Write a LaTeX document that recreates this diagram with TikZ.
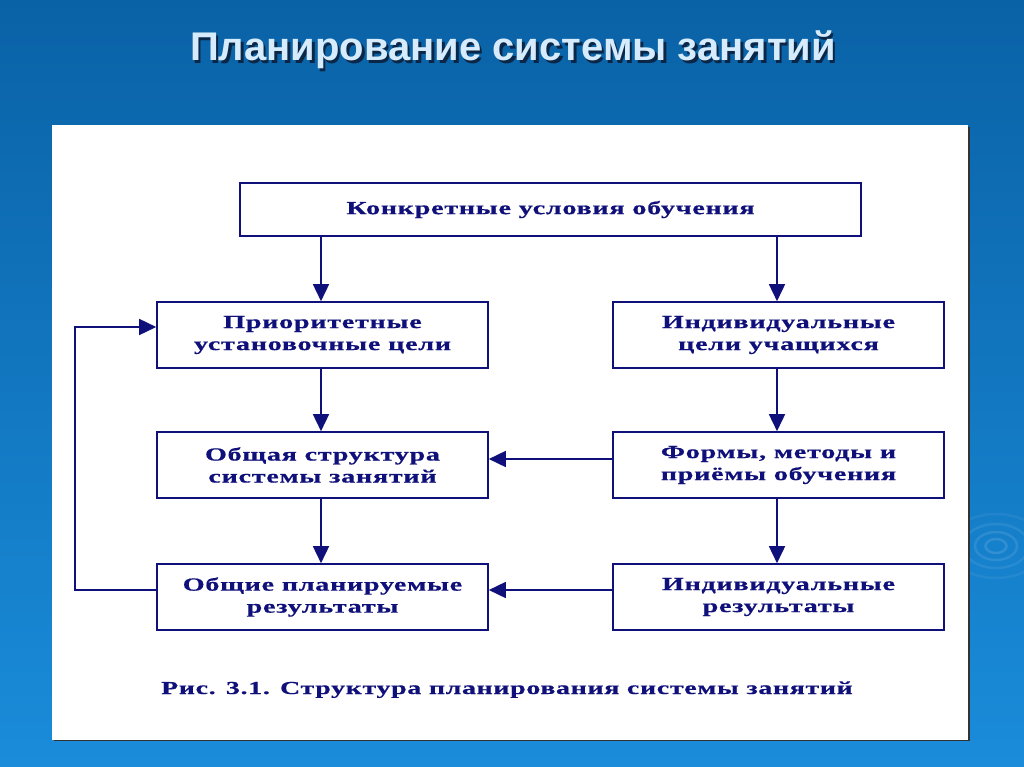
\documentclass[tikz,border=0pt]{standalone}
\usepackage{fontspec}
\setmainfont{Liberation Serif}
\newfontfamily\boxfont[FakeStretch=1.52,LetterSpace=4,FakeBold=0.6]{Liberation Serif Bold}
\newfontfamily\titlefont{Liberation Sans Bold}
\usetikzlibrary{arrows.meta,shadings}
\definecolor{navy}{HTML}{10107A}
\definecolor{bgtop}{HTML}{0A62A6}
\definecolor{bgbot}{HTML}{1A8CDA}
\definecolor{titlecol}{HTML}{D6EBFB}
\definecolor{titleshadow}{HTML}{0B2748}
\newcommand{\mytitletext}{Планирование системы занятий}
\tikzset{
  box/.style={draw=navy, line width=1.6pt, fill=white, minimum height=66pt,
    minimum width=331pt, align=center, inner sep=0pt,
    font=\boxfont\fontsize{18.5}{22}\selectfont, text=navy},
  arr/.style={draw=navy, line width=1.6pt, -{Triangle[length=17pt,width=16pt]}},
}
\begin{document}
\begin{tikzpicture}[x=1pt,y=-1pt]
\useasboundingbox (0,0) rectangle (1024,767);
\shade[top color=bgtop, bottom color=bgbot] (0,0) rectangle (1024,767);
% faint ripples
\foreach \r/\o in {7/0.12,14/0.10,22/0.08,32/0.06}
  \draw[white, opacity=\o, line width=2.5pt] (996,546) ellipse ({\r*1.5} and \r);
% title with shadow
\node[font=\titlefont\fontsize{40}{40}\selectfont, anchor=base, inner sep=0pt] (title) at (513,61)
  {\makebox[0pt][l]{\hspace{2.5pt}\raisebox{-2.5pt}{\color{titleshadow}\mytitletext}}{\color{titlecol}\mytitletext}};
% panel
\fill[black!80] (54,127) rectangle (970,741);
\fill[white] (52,125) rectangle (968,740);
% boxes
\node[box, minimum width=621pt, minimum height=53pt] (top) at (550.5,209.5) {Конкретные условия обучения};
\node[box] (l1) at (322.5,335) {Приоритетные\\установочные цели};
\node[box] (r1) at (778.5,335) {Индивидуальные\\цели учащихся};
\node[box] (l2) at (322.5,465) {Общая структура\\системы занятий};
\node[box] (r2) at (778.5,465) {Формы, методы и\\приёмы обучения};
\node[box] (l3) at (322.5,597) {Общие планируемые\\результаты};
\node[box] (r3) at (778.5,597) {Индивидуальные\\результаты};
% arrows
\draw[arr] (top.south -| 321,0) -- (l1.north -| 321,0);
\draw[arr] (top.south -| 777,0) -- (r1.north -| 777,0);
\draw[arr] (l1.south -| 321,0) -- (l2.north -| 321,0);
\draw[arr] (l2.south -| 321,0) -- (l3.north -| 321,0);
\draw[arr] (r1.south -| 777,0) -- (r2.north -| 777,0);
\draw[arr] (r2.south -| 777,0) -- (r3.north -| 777,0);
\draw[arr] (r2.west |- 0,459) -- (l2.east |- 0,459);
\draw[arr] (r3.west |- 0,590) -- (l3.east |- 0,590);
\coordinate (fb1) at (75,590);
\coordinate (fb2) at (75,327);
\draw[arr] (l3.west |- fb1) -- (fb1) -- (fb2) -- (l1.west |- fb2);
% caption
\node[font=\boxfont\fontsize{18.3}{22}\selectfont, text=navy, anchor=base] (cap) at (507,694) {Рис. 3.1. Структура планирования системы занятий};
\end{tikzpicture}
\end{document}
